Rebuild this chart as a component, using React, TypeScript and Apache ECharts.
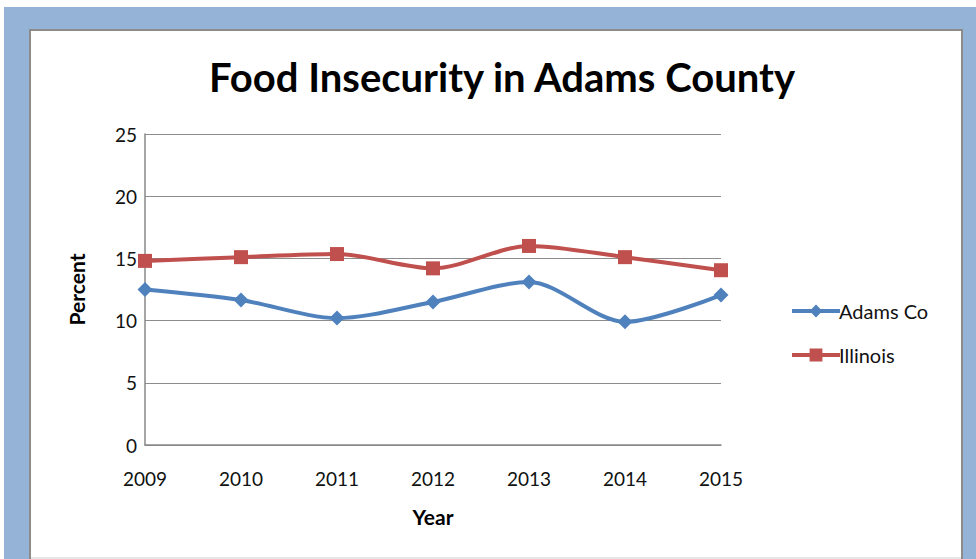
import React, { useEffect, useRef } from "react";
import * as echarts from "echarts";

const years = ["2009", "2010", "2011", "2012", "2013", "2014", "2015"];
const adamsCo = [12.5, 11.65, 10.2, 11.5, 13.1, 9.9, 12.05];
const illinois = [14.8, 15.1, 15.35, 14.2, 16.0, 15.1, 14.05];
const seriesNames = ["Adams Co", "Illinois"];

const FONT = "Lato, 'Open Sans', sans-serif";

export default function App() {
  const ref = useRef<HTMLDivElement>(null);
  useEffect(() => {
    if (!ref.current) return;
    const chart = echarts.init(ref.current, undefined, { renderer: "svg" });
    chart.setOption({
      animation: false,
      backgroundColor: "#ffffff",
      graphic: [
        { type: "rect", z: -10, shape: { x: 4, y: 7, width: 972, height: 552 }, style: { fill: "#95B3D7" } },
        { type: "rect", z: -9, shape: { x: 29, y: 29, width: 934, height: 540 }, style: { fill: "#8c8c8c" } },
        { type: "rect", z: -8, shape: { x: 31, y: 31, width: 930, height: 526 }, style: { fill: "#ffffff" } },
        { type: "rect", z: -8, shape: { x: 31, y: 557, width: 930, height: 2 }, style: { fill: "#e6e6e6" } },
      ],
      title: {
        text: "Food Insecurity in Adams County",
        left: 497,
        textAlign: "center",
        top: 52,
        textStyle: { fontFamily: FONT, fontWeight: "bold", fontSize: 40, color: "#000" },
      },
      legend: {
        orient: "vertical",
        left: 785,
        top: 296,
        itemWidth: 48,
        itemHeight: 16,
        itemGap: 24,
        data: seriesNames,
        lineStyle: { width: 4 },
        textStyle: { fontFamily: FONT, fontSize: 20, color: "#111", padding: [0, 0, 0, -6] },
      },
      grid: { left: 145, right: 255, top: 134, bottom: 114 },
      xAxis: {
        type: "category",
        data: years,
        boundaryGap: false,
        name: "Year",
        nameLocation: "middle",
        nameGap: 61,
        nameTextStyle: { fontFamily: FONT, fontWeight: "bold", fontSize: 21, color: "#000" },
        axisLine: { lineStyle: { color: "#888", width: 1.5 } },
        axisTick: { show: false },
        axisLabel: { fontFamily: FONT, fontSize: 19, color: "#111", margin: 24 },
        splitLine: { show: false },
      },
      yAxis: {
        type: "value",
        min: 0,
        max: 25,
        interval: 5,
        name: "Percent",
        nameLocation: "middle",
        nameGap: 58,
        nameRotate: 90,
        nameTextStyle: { fontFamily: FONT, fontWeight: "bold", fontSize: 21, color: "#000" },
        axisLine: { show: true, lineStyle: { color: "#888", width: 1.5 } },
        axisTick: { show: false },
        axisLabel: { fontFamily: FONT, fontSize: 19, color: "#111", margin: 8 },
        splitLine: { lineStyle: { color: "#8c8c8c", width: 1.2 } },
      },
      series: [
        {
          name: seriesNames[0],
          type: "line",
          data: adamsCo,
          smooth: 0.3,
          symbol: "diamond",
          symbolSize: 15,
          itemStyle: { color: "#4F81BD" },
          lineStyle: { color: "#4F81BD", width: 4 },
        },
        {
          name: seriesNames[1],
          type: "line",
          data: illinois,
          smooth: 0.3,
          symbol: "rect",
          symbolSize: 14,
          itemStyle: { color: "#C0504D" },
          lineStyle: { color: "#C0504D", width: 4 },
        },
      ],
    });
    return () => chart.dispose();
  }, []);
  return (
    <div
      ref={ref}
      style={{ position: "absolute", left: 0, top: 0, width: 976, height: 559 }}
    />
  );
}
